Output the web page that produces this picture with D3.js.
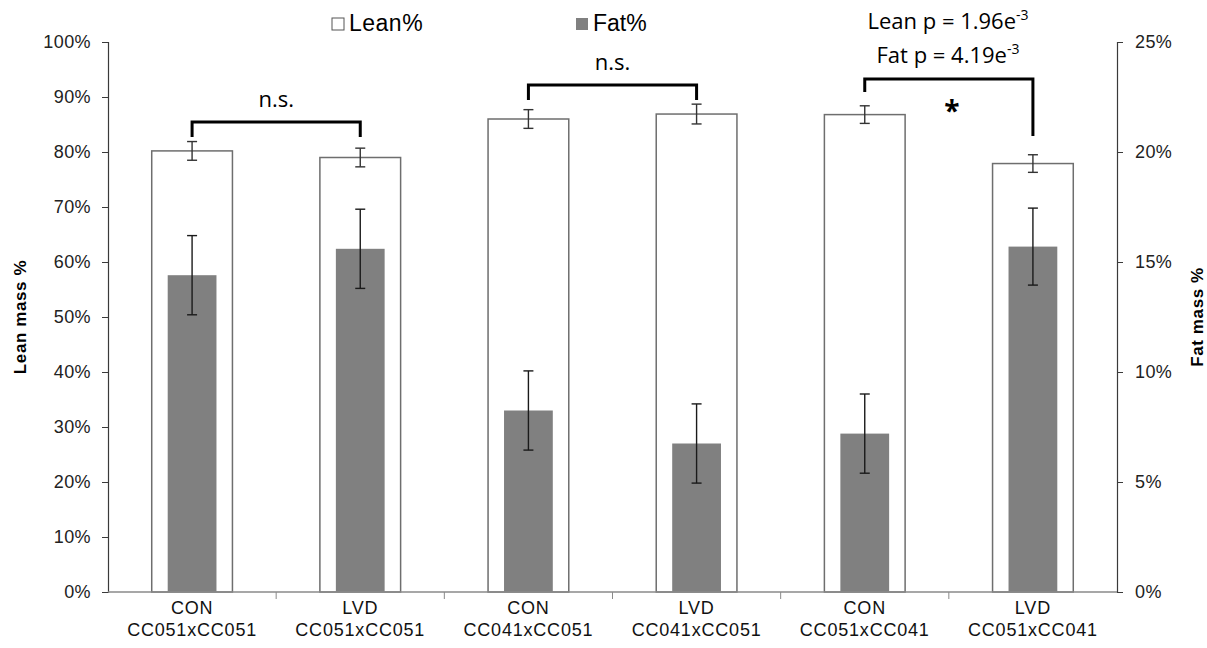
<!DOCTYPE html>
<html>
<head>
<meta charset="utf-8">
<script src="https://cdn.jsdelivr.net/npm/d3@7"></script>
<style>
  body { margin: 0; background: #fff; }
  svg { display: block; }
</style>
</head>
<body>
<div id="chart"></div>
<script>
// data
const groups = ["CON", "LVD", "CON", "LVD", "CON", "LVD"];
const crosses = ["CC051xCC051", "CC051xCC051", "CC041xCC051", "CC041xCC051", "CC051xCC041", "CC051xCC041"];
const leanPct = [80.2, 79.0, 86.0, 86.9, 86.8, 77.9];
const leanErr = [1.7, 1.7, 1.7, 1.8, 1.6, 1.6];
const fatPct = [14.4, 15.6, 8.25, 6.75, 7.2, 15.7];
const fatErr = [1.8, 1.8, 1.8, 1.8, 1.8, 1.75];
const leanTicks = [0, 10, 20, 30, 40, 50, 60, 70, 80, 90, 100];
const fatTicks = [0, 5, 10, 15, 20, 25];

const width = 1207, height = 648;
const margin = {left: 108, right: 90, top: 42, bottom: 56};
const font = "'Liberation Sans', Arial, sans-serif";
const noteFont = "'Open Sans', 'Noto Sans', sans-serif";

const svg = d3.select("#chart").append("svg")
  .attr("width", width)
  .attr("height", height);

const idx = d3.range(groups.length);
const x = d3.scaleBand()
  .domain(idx)
  .range([margin.left, width - margin.right])
  .padding(0);
const yL = d3.scaleLinear().domain([0, 100]).range([height - margin.bottom, margin.top]);
const yR = d3.scaleLinear().domain([0, 25]).range([height - margin.bottom, margin.top]);
const bw = x.bandwidth();
const cx = i => x(i) + bw / 2;

// lean bars (white)
svg.append("g").selectAll("rect")
  .data(idx)
  .enter()
  .append("rect")
    .attr("x", i => cx(i) - bw * 0.24)
    .attr("width", bw * 0.48)
    .attr("y", i => yL(leanPct[i]))
    .attr("height", i => yL(0) - yL(leanPct[i]))
    .attr("fill", "#fff")
    .attr("stroke", "#6e6e6e")
    .attr("stroke-width", 1.5);

// fat bars (grey) on the secondary axis
svg.append("g").selectAll("rect")
  .data(idx)
  .enter()
  .append("rect")
    .attr("x", i => cx(i) - bw * 0.145)
    .attr("width", bw * 0.29)
    .attr("y", i => yR(fatPct[i]))
    .attr("height", i => yR(0) - yR(fatPct[i]))
    .attr("fill", "#808080");

// error bars
function errBars(vals, errs, scale, color) {
  const g = svg.append("g").attr("stroke", color).attr("stroke-width", 1.4);
  idx.forEach(i => {
    const top = scale(vals[i] + errs[i]), bot = scale(vals[i] - errs[i]);
    g.append("line").attr("x1", cx(i)).attr("x2", cx(i)).attr("y1", top).attr("y2", bot);
    g.append("line").attr("x1", cx(i) - 5).attr("x2", cx(i) + 5).attr("y1", top).attr("y2", top);
    g.append("line").attr("x1", cx(i) - 5).attr("x2", cx(i) + 5).attr("y1", bot).attr("y2", bot);
  });
}
errBars(leanPct, leanErr, yL, "#333");
errBars(fatPct, fatErr, yR, "#1a1a1a");

// left axis
const axL = svg.append("g")
  .attr("transform", `translate(${margin.left},0)`)
  .call(d3.axisLeft(yL).tickValues(leanTicks).tickFormat(d => d + "%").tickSize(6).tickPadding(11));
// right axis
const axR = svg.append("g")
  .attr("transform", `translate(${width - margin.right},0)`)
  .call(d3.axisRight(yR).tickValues(fatTicks).tickFormat(d => d + "%").tickSize(6).tickPadding(12));
[axL, axR].forEach(a => {
  a.select(".domain").attr("stroke", "#3a3a3a").attr("stroke-width", 1.2);
  a.selectAll(".tick line").attr("stroke", "#3a3a3a");
  a.selectAll(".tick text")
    .attr("font-family", font)
    .attr("font-size", 18)
    .attr("letter-spacing", 0.4)
    .attr("fill", "#222");
});

// x axis
const xAxis = svg.append("g");
xAxis.append("line")
  .attr("x1", margin.left).attr("x2", width - margin.right)
  .attr("y1", yL(0)).attr("y2", yL(0))
  .attr("stroke", "#8a8a8a").attr("stroke-width", 1.4);
xAxis.selectAll(".sep")
  .data(d3.range(1, groups.length))
  .enter()
  .append("line")
    .attr("x1", i => x(i)).attr("x2", i => x(i))
    .attr("y1", yL(0)).attr("y2", yL(0) + 7)
    .attr("stroke", "#8a8a8a");
const lbl = xAxis.selectAll(".lbl")
  .data(idx)
  .enter()
  .append("text")
    .attr("text-anchor", "middle")
    .attr("font-family", font)
    .attr("font-size", 18)
    .attr("letter-spacing", 0.8)
    .attr("fill", "#111");
lbl.append("tspan").attr("x", cx).attr("y", yL(0) + 22).text(i => groups[i]);
lbl.append("tspan").attr("x", cx).attr("y", yL(0) + 44).text(i => crosses[i]);

// axis titles
svg.append("text")
  .attr("transform", `translate(26,${(yL(0) + yL(100)) / 2}) rotate(-90)`)
  .attr("text-anchor", "middle")
  .attr("font-family", font).attr("font-size", 17).attr("font-weight", "bold")
  .attr("letter-spacing", 0.6)
  .text("Lean mass %");
svg.append("text")
  .attr("transform", `translate(1203,${(yL(0) + yL(100)) / 2}) rotate(-90)`)
  .attr("text-anchor", "middle")
  .attr("font-family", font).attr("font-size", 17).attr("font-weight", "bold")
  .attr("letter-spacing", 0.6)
  .text("Fat mass %");

// legend
const legend = svg.append("g").attr("font-family", font).attr("font-size", 23);
legend.append("rect").attr("x", 332).attr("y", 18).attr("width", 12).attr("height", 12)
  .attr("fill", "#fff").attr("stroke", "#555");
legend.append("text").attr("x", 349).attr("y", 31).attr("letter-spacing", 0.5).text("Lean%");
legend.append("rect").attr("x", 576).attr("y", 18).attr("width", 12).attr("height", 12)
  .attr("fill", "#808080");
legend.append("text").attr("x", 593).attr("y", 31).text("Fat%");

// significance brackets
const brackets = [
  {a: 0, b: 1, y: 122, dA: 15, dB: 15, label: "n.s.", lx: 0, ly: 107, fs: 22},
  {a: 2, b: 3, y: 85, dA: 15, dB: 15, label: "n.s.", lx: 0, ly: 70, fs: 22},
  {a: 4, b: 5, y: 79, dA: 13, dB: 57, label: "*", lx: 3, ly: 121, fs: 28}
];
brackets.forEach(bk => {
  const x1 = cx(bk.a), x2 = cx(bk.b);
  svg.append("path")
    .attr("d", `M${x1},${bk.y + bk.dA}V${bk.y}H${x2}V${bk.y + bk.dB}`)
    .attr("fill", "none")
    .attr("stroke", "#000")
    .attr("stroke-width", 3);
  svg.append("text")
    .attr("x", (x1 + x2) / 2 + bk.lx)
    .attr("y", bk.ly)
    .attr("text-anchor", "middle")
    .attr("font-family", noteFont)
    .attr("font-size", bk.fs)
    .attr("font-weight", bk.label === "*" ? "bold" : "normal")
    .text(bk.label);
});

// p-value note
const note = svg.append("g").attr("font-family", noteFont).attr("font-size", 22).attr("text-anchor", "middle");
const t1 = note.append("text").attr("x", 948).attr("y", 29);
t1.append("tspan").text("Lean p = 1.96e");
t1.append("tspan").attr("font-size", 14).attr("dy", -9).text("-3");
const t2 = note.append("text").attr("x", 948).attr("y", 63);
t2.append("tspan").text("Fat p = 4.19e");
t2.append("tspan").attr("font-size", 14).attr("dy", -9).text("-3");
</script>
</body>
</html>
